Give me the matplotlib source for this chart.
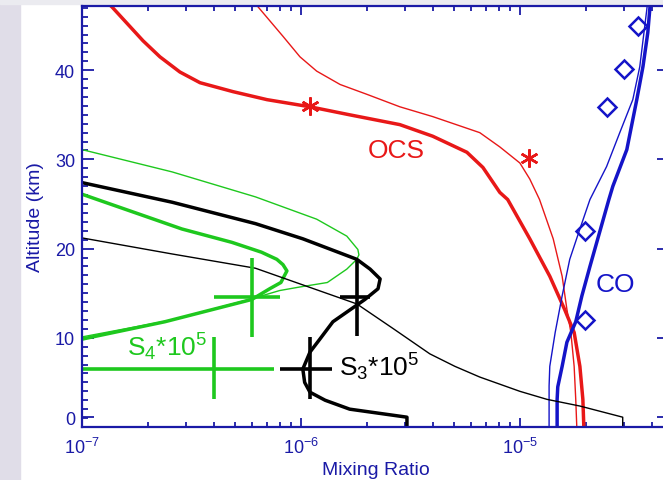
import numpy as np
import matplotlib
matplotlib.use("Agg")
import matplotlib.pyplot as plt
from matplotlib.ticker import FixedLocator, MultipleLocator, LogLocator, NullFormatter
from matplotlib.patches import Rectangle

plt.rcParams['font.family'] = ['Liberation Sans', 'DejaVu Sans']
plt.rcParams['mathtext.default'] = 'regular'

# OCS model profiles (thick / thin)
ocs_thick_alt = [0, 3.1, 6.8, 10.6, 13.2, 16.9, 21.1, 25.5, 26.3, 29.1, 30.8, 32.6, 33.9, 35.0, 35.9, 36.7, 37.6, 38.6,
                 39.8, 41.5, 43.3, 47.1, 47.6]
ocs_thick_x = [1.96e-5, 1.94e-5, 1.88e-5, 1.77e-5, 1.6e-5, 1.37e-5, 1.11e-5, 8.8e-6, 8.1e-6, 6.78e-6, 5.73e-6, 4.0e-6,
               2.83e-6, 1.67e-6, 1.1e-6, 7.0e-7, 4.89e-7, 3.46e-7, 2.8e-7, 2.27e-7, 1.9e-7, 1.37e-7, 1.3e-7]
ocs_thin_alt = [0, 3.1, 6.8, 10.6, 13.2, 16.9, 21.1, 25.5, 27.8, 29.6, 31.4, 33.0, 34.8, 35.9, 37.3, 38.4, 39.9, 41.5,
                43.8, 47.1, 47.6]
ocs_thin_x = [1.82e-5, 1.8e-5, 1.77e-5, 1.71e-5, 1.64e-5, 1.56e-5, 1.42e-5, 1.23e-5, 1.11e-5, 1.0e-5, 8.1e-6, 6.56e-6,
              4.0e-6, 2.83e-6, 2.0e-6, 1.51e-6, 1.18e-6, 9.9e-7, 8.28e-7, 6.37e-7, 6.2e-7]
ocs_obs_alt = [36, 30.2]
ocs_obs_x = [1.1e-6, 1.1e-5]

# CO model profiles and observations
co_thick_alt = [0, 3.1, 4.5, 6.8, 9.5, 11.8, 14.7, 18.0, 25.5, 27.0, 31.1, 36.7, 40.4, 44.2, 47.1, 47.6]
co_thick_x = [1.48e-5, 1.48e-5, 1.49e-5, 1.56e-5, 1.64e-5, 1.8e-5, 1.92e-5, 2.09e-5, 2.55e-5, 2.66e-5, 3.08e-5,
              3.42e-5, 3.65e-5, 3.84e-5, 3.93e-5, 3.95e-5]
co_thin_alt = [0, 4.6, 6.8, 10.6, 14.7, 18.8, 22.2, 25.5, 29.2, 33.0, 36.7, 40.4, 46.8, 47.6]
co_thin_x = [1.36e-5, 1.36e-5, 1.37e-5, 1.45e-5, 1.56e-5, 1.69e-5, 1.88e-5, 2.09e-5, 2.49e-5, 2.86e-5, 3.28e-5,
             3.53e-5, 3.8e-5, 3.83e-5]
co_obs_alt = [45.0, 40.1, 35.9, 22.0, 12.0]
co_obs_x = [3.46e-5, 2.99e-5, 2.49e-5, 1.98e-5, 1.98e-5]

# S4 * 1e5 profiles
s4_thick_alt = [9.0, 9.85, 11.8, 14.3, 15.5, 16.2, 17.5, 18.2, 18.8, 19.6, 20.7, 22.2, 26.1, 26.8]
s4_thick_x = [8.5e-8, 1.0e-7, 2.39e-7, 5.97e-7, 7.2e-7, 8.1e-7, 8.63e-7, 8.28e-7, 7.76e-7, 6.6e-7, 4.84e-7, 2.86e-7,
              1.0e-7, 8.5e-8]
s4_thin_alt = [9.5, 10.1, 12.0, 14.4, 15.3, 15.7, 16.2, 17.7, 18.8, 19.3, 19.9, 21.4, 23.3, 25.8, 28.6, 31.1, 31.6]
s4_thin_x = [8.5e-8, 1.0e-7, 2.58e-7, 6.0e-7, 8.0e-7, 9.9e-7, 1.32e-6, 1.62e-6, 1.8e-6, 1.84e-6, 1.82e-6, 1.62e-6,
             1.18e-6, 6.2e-7, 2.58e-7, 1.0e-7, 8.5e-8]

# S3 * 1e5 profiles
s3_thick_alt = [0, 1.1, 2.0, 3.0, 3.9, 5.0, 6.5, 8.4, 9.85, 11.8, 14.3, 15.5, 16.6, 17.7, 18.8, 21.1, 22.8, 25.2,
                27.4, 28.0]
s3_thick_x = [3.05e-6, 3.05e-6, 1.67e-6, 1.29e-6, 1.1e-6, 1.04e-6, 1.02e-6, 1.1e-6, 1.22e-6, 1.4e-6, 1.96e-6,
              2.25e-6, 2.3e-6, 2.07e-6, 1.8e-6, 1.02e-6, 6.2e-7, 2.58e-7, 1.0e-7, 8.5e-8]
s3_thin_alt = [0, 1.1, 2.35, 3.1, 4.0, 5.6, 6.8, 8.2, 11.0, 13.8, 17.8, 19.4, 21.2, 21.6]
s3_thin_x = [2.95e-5, 2.95e-5, 1.88e-5, 1.33e-5, 1.0e-5, 6.56e-6, 5.05e-6, 3.88e-6, 2.65e-6, 1.8e-6, 6.2e-7, 2.58e-7,
             1.0e-7, 8.5e-8]

# observed points with error ranges: x, x_lo, x_hi, alt, alt_lo, alt_hi
s4_obs = [(6.0e-7, 4.0e-7, 8.0e-7, 14.6, 10.1, 19.0),
          (4.0e-7, 5.0e-8, 7.5e-7, 6.5, 3.1, 10.1)]
s3_obs = [(1.8e-6, 1.51e-6, 2.07e-6, 14.6, 10.2, 18.8),
          (1.1e-6, 8.0e-7, 1.39e-6, 6.5, 3.1, 10.1)]

alt_ticks = [1.1, 10, 20, 30, 40]
alt_ticklabels = ['0', '10', '20', '30', '40']

axis_blue = '#1a1aa6'
red = '#e81818'
green = '#1ec81e'
blue = '#1414c8'

fig = plt.figure(figsize=(6.63, 4.81), dpi=100)
fig.patch.set_facecolor('white')
fig.patches.append(Rectangle((0, 0), 20 / 663, 1, transform=fig.transFigure, color='#e0dde8', zorder=-10))
fig.patches.append(Rectangle((0, 1 - 5 / 481), 1, 5 / 481, transform=fig.transFigure, color='#ebebf0', zorder=-10))

ax = fig.add_axes([82 / 663, 53 / 481, 587 / 663, 421 / 481])
ax.set_xscale('log')
ax.set_xlim(1e-7, 4.8e-5)
ax.set_ylim(0, 47.2)

ax.plot(ocs_thick_x, ocs_thick_alt, color=red, lw=2.5)
ax.plot(ocs_thin_x, ocs_thin_alt, color=red, lw=1.0)
ax.plot(ocs_obs_x, ocs_obs_alt, ls='none', marker=(6, 2, 0), ms=13, mew=1.8, color=red)

ax.plot(co_thick_x, co_thick_alt, color=blue, lw=2.5)
ax.plot(co_thin_x, co_thin_alt, color=blue, lw=1.0)
ax.plot(co_obs_x, co_obs_alt, ls='none', marker='D', ms=9, mew=1.8, mfc='none', mec=blue)

ax.plot(s4_thick_x, s4_thick_alt, color=green, lw=2.5)
ax.plot(s4_thin_x, s4_thin_alt, color=green, lw=1.0)
ax.plot(s3_thick_x, s3_thick_alt, color='black', lw=2.5)
ax.plot(s3_thin_x, s3_thin_alt, color='black', lw=1.0)

for obs, c in [(s4_obs, green), (s3_obs, 'black')]:
    for x, xlo, xhi, a, alo, ahi in obs:
        ax.plot([xlo, xhi], [a, a], color=c, lw=2.6, solid_capstyle='butt')
        ax.plot([x, x], [alo, ahi], color=c, lw=2.6, solid_capstyle='butt')

ax.text(2.72e-6, 31.1, 'OCS', color=red, fontsize=19, ha='center', va='center')
ax.text(2.72e-5, 16.0, 'CO', color=blue, fontsize=19, ha='center', va='center')
ax.text(1.6e-7, 9.0, 'S$_4$*10$^5$', color=green, fontsize=19, ha='left', va='center')
ax.text(1.5e-6, 6.8, 'S$_3$*10$^5$', color='black', fontsize=19, ha='left', va='center')

ax.yaxis.set_major_locator(FixedLocator(alt_ticks))
ax.set_yticklabels(alt_ticklabels)
ax.yaxis.set_minor_locator(MultipleLocator(1))
ax.xaxis.set_major_locator(LogLocator(base=10, numticks=10))
ax.xaxis.set_minor_locator(LogLocator(base=10, subs=np.arange(2, 10), numticks=20))
ax.xaxis.set_minor_formatter(NullFormatter())

for s in ax.spines.values():
    s.set_color(axis_blue)
    s.set_linewidth(1.6)
ax.tick_params(which='both', direction='in', top=True, right=True, color=axis_blue, width=1.3,
               labelcolor=axis_blue, labelsize=13)
ax.tick_params(axis='y', which='major', length=8.5, pad=5)
ax.tick_params(axis='y', which='minor', length=4.5)
ax.tick_params(axis='x', which='major', length=6.5, pad=7)
ax.tick_params(axis='x', which='minor', length=3.5)

ax.set_xlabel('Mixing Ratio', color=axis_blue, fontsize=14, labelpad=3)
ax.set_ylabel('Altitude (km)', color=axis_blue, fontsize=14, labelpad=8)

fig.savefig('out.png', dpi=100)
